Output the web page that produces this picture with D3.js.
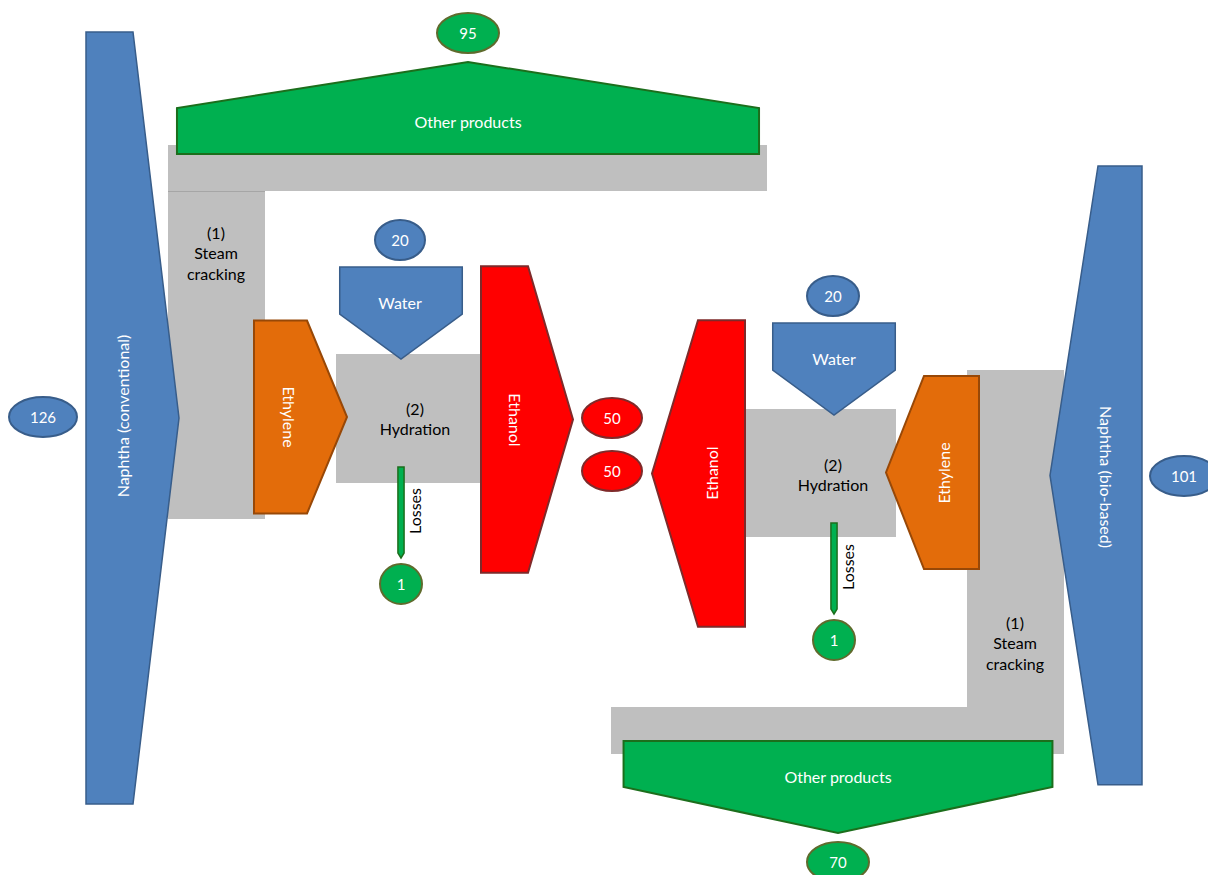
<!DOCTYPE html>
<html>
<head>
<meta charset="utf-8">
<script src="https://cdn.jsdelivr.net/npm/d3@7"></script>
<style>
  body { margin: 0; background: #fff; }
  svg text { font-family: Lato, "Open Sans", sans-serif; }
</style>
</head>
<body>
<div id="chart"></div>
<script>
const width = 1208;
const height = 875;

// -------------------- DATA --------------------
// index 0 = conventional route (left), index 1 = bio-based route (right)
const naphthaNames = ["Naphtha (conventional)", "Naphtha (bio-based)"];
const naphthaValues = [126, 101];
const otherProductsValues = [95, 70];
const ethyleneValues = [31.5, 31.5];   // not labelled, read from shape width
const waterValues = [20, 20];
const ethanolValues = [50, 50];
const lossesValues = [1, 1];
const steamCrackingLabel = ["(1)", "Steam", "cracking"];
const hydrationLabel = ["(2)", "Hydration"];

// flow thickness scale (value -> px)
const flow = d3.scaleLinear().domain([0, 126]).range([0, 772]);

const colors = {
  blue: "#4f81bd", blueStroke: "#385d8a",
  green: "#00b050", greenStroke: "#1c6e1c", greenEllipse: "#5f6b2d",
  orange: "#e36c0a", orangeStroke: "#984807",
  red: "#ff0000", redStroke: "#7f2a2a",
  gray: "#bfbfbf"
};

const svg = d3.select("#chart")
  .append("svg")
  .attr("width", width)
  .attr("height", height);

// arrow polygon: base position, straight length, tip length, thickness
function arrowPoints(dir, x, y, len, tip, t) {
  if (dir === "right") return [[x, y - t / 2], [x + len, y - t / 2], [x + len + tip, y], [x + len, y + t / 2], [x, y + t / 2]];
  if (dir === "left") return [[x, y - t / 2], [x - len, y - t / 2], [x - len - tip, y], [x - len, y + t / 2], [x, y + t / 2]];
  if (dir === "down") return [[x - t / 2, y], [x + t / 2, y], [x + t / 2, y + len], [x, y + len + tip], [x - t / 2, y + len]];
  return [[x - t / 2, y], [x - t / 2, y - len], [x, y - len - tip], [x + t / 2, y - len], [x + t / 2, y]];
}

const line = d3.line();

function arrow(dir, x, y, len, tip, value, fill, stroke, sw) {
  svg.append("path")
    .attr("d", line(arrowPoints(dir, x, y, len, tip, flow(value))) + "Z")
    .attr("fill", fill)
    .attr("stroke", stroke)
    .attr("stroke-width", sw)
    .attr("stroke-linejoin", "miter");
}

function label(x, y, txt, color, size, rot) {
  svg.append("text")
    .attr("transform", `translate(${x},${y}) rotate(${rot || 0})`)
    .attr("text-anchor", "middle")
    .attr("dominant-baseline", "central")
    .style("font-size", size + "px")
    .attr("fill", color)
    .text(txt);
}

function bubble(cx, cy, rx, ry, value, fill, stroke) {
  svg.append("ellipse")
    .attr("cx", cx).attr("cy", cy)
    .attr("rx", rx).attr("ry", ry)
    .attr("fill", fill)
    .attr("stroke", stroke)
    .attr("stroke-width", 2);
  label(cx, cy, value, "#fff", 15);
}

// -------------------- PROCESS BLOCKS (gray) --------------------
svg.append("path")
  .attr("d", line([[168, 145], [767, 145], [767, 191], [265, 191], [265, 519], [168, 519]]) + "Z")
  .attr("fill", colors.gray);
svg.append("line")
  .attr("x1", 168).attr("x2", 265).attr("y1", 191.5).attr("y2", 191.5)
  .attr("stroke", "#a6a6a6").attr("stroke-width", 1);

svg.append("rect").attr("x", 336).attr("y", 354).attr("width", 145).attr("height", 129).attr("fill", colors.gray);
svg.append("rect").attr("x", 745).attr("y", 409).attr("width", 151).attr("height", 128).attr("fill", colors.gray);

svg.append("path")
  .attr("d", line([[967, 370], [1064, 370], [1064, 754], [611, 754], [611, 707], [967, 707]]) + "Z")
  .attr("fill", colors.gray);

// -------------------- LEFT: conventional route --------------------
arrow("right", 86, 32 + flow(naphthaValues[0]) / 2, 47, 46, naphthaValues[0], colors.blue, colors.blueStroke, 1.5);
arrow("up", 468, 154, 46, 46, otherProductsValues[0], colors.green, colors.greenStroke, 2);
arrow("down", 401, 267, 47, 45, waterValues[0], colors.blue, colors.blueStroke, 1.5);
arrow("right", 254, 417, 53, 40, ethyleneValues[0], colors.orange, colors.orangeStroke, 2);
arrow("right", 481, 419.5, 47, 45, ethanolValues[0], colors.red, colors.redStroke, 2);
arrow("down", 401, 467, 86, 5, lossesValues[0], colors.green, colors.greenStroke, 1.5);

label(122, 416, naphthaNames[0], "#fff", 16, -90);
label(468, 121, "Other products", "#fff", 16);
label(400, 302, "Water", "#fff", 16);
label(289, 417, "Ethylene", "#fff", 16, 90);
label(515, 420, "Ethanol", "#fff", 16, 90);
label(414, 511, "Losses", "#000", 16, -90);
steamCrackingLabel.forEach((t, i) => label(216, 232 + i * 20.5, t, "#000", 16));
hydrationLabel.forEach((t, i) => label(415, 408 + i * 20.5, t, "#000", 16));

bubble(43, 417, 34, 20, naphthaValues[0], colors.blue, colors.blueStroke);
bubble(468, 33, 31, 20, otherProductsValues[0], colors.green, colors.greenEllipse);
bubble(400, 240, 25, 20, waterValues[0], colors.blue, colors.blueStroke);
bubble(612, 418, 30, 20, ethanolValues[0], colors.red, colors.redStroke);
bubble(401, 584, 21, 20, lossesValues[0], colors.green, colors.greenEllipse);

// -------------------- RIGHT: bio-based route --------------------
arrow("left", 1142, 166 + flow(naphthaValues[1]) / 2, 44, 48, naphthaValues[1], colors.blue, colors.blueStroke, 1.5);
arrow("down", 838, 741, 46, 46, otherProductsValues[1], colors.green, colors.greenStroke, 2);
arrow("down", 834, 323, 47, 45, waterValues[1], colors.blue, colors.blueStroke, 1.5);
arrow("left", 979, 472.5, 55, 38, ethyleneValues[1], colors.orange, colors.orangeStroke, 2);
arrow("left", 745, 473.5, 47, 46, ethanolValues[1], colors.red, colors.redStroke, 2);
arrow("down", 834, 523, 86, 5, lossesValues[1], colors.green, colors.greenStroke, 1.5);

label(1106, 477, naphthaNames[1], "#fff", 16, 90);
label(838, 776, "Other products", "#fff", 16);
label(834, 358, "Water", "#fff", 16);
label(943, 473, "Ethylene", "#fff", 16, -90);
label(711, 473, "Ethanol", "#fff", 16, -90);
label(847, 567, "Losses", "#000", 16, -90);
steamCrackingLabel.forEach((t, i) => label(1015, 622 + i * 20.5, t, "#000", 16));
hydrationLabel.forEach((t, i) => label(833, 464 + i * 20.5, t, "#000", 16));

bubble(1184, 476, 34, 20, naphthaValues[1], colors.blue, colors.blueStroke);
bubble(838, 862, 31, 20, otherProductsValues[1], colors.green, colors.greenEllipse);
bubble(833, 296, 26, 20, waterValues[1], colors.blue, colors.blueStroke);
bubble(612, 471, 30, 20, ethanolValues[1], colors.red, colors.redStroke);
bubble(834, 640, 21, 20, lossesValues[1], colors.green, colors.greenEllipse);
</script>
</body>
</html>
